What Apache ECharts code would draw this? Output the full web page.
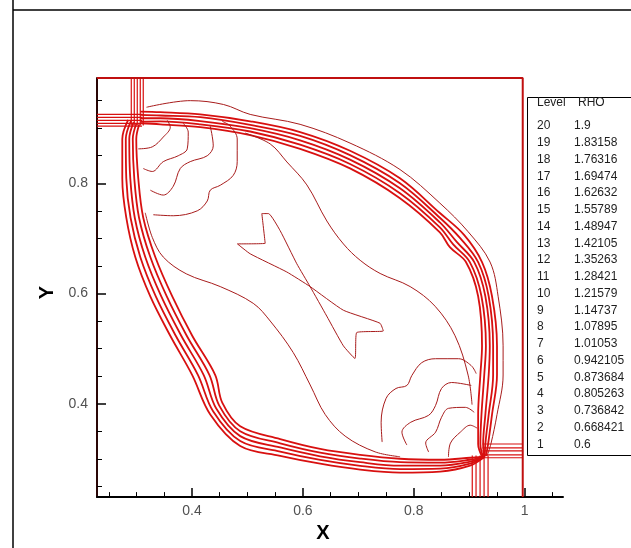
<!DOCTYPE html>
<html>
<head>
<meta charset="utf-8">
<title>RHO contours</title>
<script src="https://cdn.jsdelivr.net/npm/echarts@6/dist/echarts.min.js"></script>
<style>
  html, body { margin: 0; padding: 0; background: #fff; }
  #chart { width: 631px; height: 548px; }
</style>
</head>
<body>
<div id="chart"></div>
<script>
// ---- axis ranges and ticks ----
const X_MIN = 0.2288, X_MAX = 1.069;
const Y_MIN = 0.2304, Y_MAX = 0.9911;
const DOMAIN_RIGHT = 0.9964;
const xMajorTicks = [0.4, 0.6, 0.8, 1];
const xMinorTicks = [0.25, 0.3, 0.35, 0.45, 0.5, 0.55, 0.65, 0.7, 0.75, 0.85, 0.9, 0.95, 1.05];
const yMajorTicks = [0.4, 0.6, 0.8];
const yMinorTicks = [0.25, 0.3, 0.35, 0.45, 0.5, 0.55, 0.65, 0.7, 0.75, 0.85, 0.9, 0.95];

// ---- contour legend ----
const levelNumbers = [20, 19, 18, 17, 16, 15, 14, 13, 12, 11, 10, 9, 8, 7, 6, 5, 4, 3, 2, 1];
const rhoLevels = ['1.9', '1.83158', '1.76316', '1.69474', '1.62632', '1.55789', '1.48947',
  '1.42105', '1.35263', '1.28421', '1.21579', '1.14737', '1.07895', '1.01053', '0.942105',
  '0.873684', '0.805263', '0.736842', '0.668421', '0.6'];

// ---- shock band, upper-right side (outer -> inner) ----
const upperOuter = [[0.318,0.938],[0.397,0.950],[0.457,0.943],[0.505,0.925],[0.595,0.907],[0.685,0.873],[0.775,0.825],[0.847,0.764],[0.898,0.712],[0.9375,0.657],[0.952,0.595],[0.961,0.505],[0.961,0.452],[0.950,0.380],[0.939,0.327],[0.932,0.305]];
const upperBand1 = [[0.307,0.930],[0.343,0.929],[0.415,0.925],[0.505,0.9125],[0.595,0.893],[0.685,0.859],[0.775,0.809],[0.847,0.746],[0.891,0.706],[0.923,0.657],[0.941,0.595],[0.950,0.505],[0.950,0.452],[0.941,0.380],[0.934,0.327],[0.930,0.305]];
const upperBand2 = [[0.307,0.924],[0.343,0.923],[0.415,0.920],[0.505,0.906],[0.595,0.886],[0.685,0.851],[0.775,0.800],[0.847,0.7375],[0.884,0.700],[0.916,0.657],[0.935,0.595],[0.943,0.505],[0.943,0.452],[0.935,0.380],[0.929,0.327],[0.928,0.304]];
const upperBand3 = [[0.307,0.918],[0.343,0.918],[0.415,0.913],[0.505,0.900],[0.595,0.878],[0.685,0.843],[0.775,0.791],[0.847,0.729],[0.877,0.694],[0.909,0.657],[0.929,0.595],[0.937,0.505],[0.935,0.452],[0.929,0.380],[0.925,0.327],[0.927,0.303]];
const upperBand4 = [[0.307,0.912],[0.343,0.9125],[0.415,0.907],[0.505,0.894],[0.595,0.870],[0.685,0.835],[0.775,0.782],[0.847,0.720],[0.871,0.689],[0.901,0.657],[0.922,0.595],[0.930,0.505],[0.927,0.452],[0.922,0.380],[0.920,0.327],[0.925,0.303]];
const upperBand5 = [[0.307,0.909],[0.343,0.907],[0.415,0.902],[0.505,0.8875],[0.595,0.8625],[0.685,0.827],[0.775,0.773],[0.847,0.711],[0.865,0.684],[0.894,0.657],[0.916,0.595],[0.923,0.505],[0.920,0.452],[0.916,0.380],[0.916,0.327],[0.923,0.304]];

// ---- shock band, lower-left side (outer -> inner) ----
const lowerBand1 = [[0.285,0.915],[0.2744,0.8804],[0.2744,0.8089],[0.2816,0.7375],[0.2978,0.6661],[0.3249,0.5946],[0.3609,0.5232],[0.4005,0.4518],[0.4330,0.3804],[0.487,0.3232],[0.5591,0.3054],[0.6312,0.2911],[0.7033,0.2804],[0.7753,0.2750],[0.8474,0.2768],[0.9014,0.2875],[0.927,0.303]];
const lowerBand2 = [[0.290,0.913],[0.2807,0.8804],[0.2816,0.8089],[0.2893,0.7375],[0.3068,0.6661],[0.3348,0.5946],[0.3708,0.5232],[0.4109,0.4518],[0.4384,0.3857],[0.487,0.3321],[0.5591,0.3129],[0.6312,0.2978],[0.7033,0.2871],[0.7753,0.2813],[0.8474,0.2821],[0.9014,0.2911],[0.9285,0.304]];
const lowerBand3 = [[0.295,0.911],[0.2870,0.8804],[0.2888,0.8089],[0.2969,0.7375],[0.3158,0.6661],[0.3447,0.5946],[0.3807,0.5232],[0.4212,0.4518],[0.4438,0.3911],[0.487,0.3411],[0.5591,0.3205],[0.6312,0.3045],[0.7033,0.2938],[0.7753,0.2875],[0.8474,0.2875],[0.9014,0.2946],[0.927,0.303]];
const lowerBand4 = [[0.300,0.909],[0.2933,0.8804],[0.2960,0.8089],[0.3046,0.7375],[0.3249,0.6661],[0.3546,0.5946],[0.3906,0.5232],[0.4316,0.4518],[0.4492,0.3964],[0.487,0.3500],[0.5591,0.3281],[0.6312,0.3112],[0.7033,0.3004],[0.7753,0.2938],[0.8474,0.2929],[0.9014,0.2982],[0.925,0.303]];
const lowerBand5 = [[0.305,0.907],[0.2996,0.8804],[0.3032,0.8089],[0.3122,0.7375],[0.3339,0.6661],[0.3645,0.5946],[0.4005,0.5232],[0.4420,0.4518],[0.4546,0.4018],[0.487,0.3589],[0.5591,0.3357],[0.6312,0.3179],[0.7033,0.3071],[0.7753,0.3000],[0.8474,0.2982],[0.9014,0.3018],[0.923,0.304]];

// ---- interior contours ----
const innerUpper = [[0.4960,0.8911],[0.5411,0.8714],[0.5712,0.8387],[0.6072,0.7970],[0.6432,0.7316],[0.6732,0.6898],[0.7033,0.6602],[0.7393,0.6363],[0.7934,0.6125],[0.8384,0.5768],[0.8744,0.5232],[0.8979,0.4518],[0.9050,0.3982]];
const innerLower = [[0.3158,0.7464],[0.3285,0.7018],[0.3483,0.6661],[0.3897,0.6357],[0.4510,0.6125],[0.5105,0.5821],[0.5411,0.5500],[0.5825,0.4929],[0.6132,0.4339],[0.6402,0.3804],[0.6762,0.3411],[0.7303,0.3125],[0.7753,0.3036]];
const centerSaddle = [[0.482,0.690],[0.505,0.672],[0.571,0.639],[0.613,0.6125],[0.673,0.5696],[0.739,0.546],[0.745,0.532],[0.697,0.529],[0.694,0.482],[0.673,0.505],[0.643,0.559],[0.613,0.6125],[0.589,0.654],[0.559,0.714],[0.538,0.745],[0.526,0.745],[0.532,0.691],[0.482,0.690]];

// ---- pockets behind the top-left junction ----
const topLeftLoop1 = [[0.3032,0.8625],[0.3284,0.8661],[0.3483,0.8839],[0.3609,0.9018],[0.3555,0.9143]];
const topLeftLoop2 = [[0.3122,0.8268],[0.3285,0.8214],[0.3483,0.8393],[0.3753,0.8500],[0.3915,0.8625],[0.3933,0.8929],[0.3843,0.9089]];
const topLeftLoop3 = [[0.3249,0.7875],[0.3483,0.7786],[0.3663,0.7946],[0.3789,0.8268],[0.3969,0.8393],[0.4276,0.8500],[0.4384,0.8679],[0.4330,0.9036]];
const topLeftLoop4 = [[0.3303,0.7429],[0.3663,0.7411],[0.4096,0.7500],[0.4276,0.7679],[0.4330,0.7875],[0.4510,0.7964],[0.4744,0.8143],[0.4816,0.8393],[0.4816,0.8804],[0.4690,0.9036],[0.4546,0.9125]];

// ---- pockets behind the bottom-right junction ----
const bottomRightLoop1 = [[0.8625,0.3032],[0.8661,0.3284],[0.8839,0.3483],[0.9018,0.3609],[0.9143,0.3555]];
const bottomRightLoop2 = [[0.8268,0.3122],[0.8214,0.3285],[0.8393,0.3483],[0.8500,0.3753],[0.8625,0.3915],[0.8929,0.3933],[0.9089,0.3843]];
const bottomRightLoop3 = [[0.7875,0.3249],[0.7786,0.3483],[0.7946,0.3663],[0.8268,0.3789],[0.8393,0.3969],[0.8500,0.4276],[0.8679,0.4384],[0.9036,0.4330]];
const bottomRightLoop4 = [[0.7429,0.3303],[0.7411,0.3663],[0.7500,0.4096],[0.7679,0.4276],[0.7875,0.4330],[0.7964,0.4510],[0.8143,0.4744],[0.8393,0.4816],[0.8804,0.4816],[0.9036,0.4690],[0.9125,0.4546]];

// ---- straight shock legs running from the junctions to the boundary ----
const topLegX = [0.2906, 0.2960, 0.3014, 0.3068, 0.3122];
const leftLegY = [0.9250, 0.9196, 0.9143, 0.9089, 0.9036];
const bottomLegX = [0.9054, 0.9122, 0.9195, 0.9267, 0.9339];
const rightLegY = [0.3268, 0.3196, 0.3143, 0.3071, 0.3018];
const TOP_LEG_END = 0.905, LEFT_LEG_END = 0.31, BOTTOM_LEG_END = 0.306, RIGHT_LEG_START = 0.924;

const LINE_COLOR = '#a81c1c';
const BAND_COLOR = '#d81010';
const FONT = '"Liberation Sans", Arial, sans-serif';

function contour(points, color, smooth, width) {
  return {
    type: 'line',
    data: points,
    showSymbol: false,
    symbol: 'none',
    smooth: smooth,
    silent: true,
    animation: false,
    lineStyle: { color: color, width: width || 1 },
    z: 3
  };
}

const series = [];
[upperOuter].forEach(p => series.push(contour(p, LINE_COLOR, 0.35, 1)));
[upperBand1, upperBand2, upperBand3, upperBand4, upperBand5,
 lowerBand1, lowerBand2, lowerBand3, lowerBand4, lowerBand5]
  .forEach(p => series.push(contour(p, BAND_COLOR, 0.35, 1.8)));
[innerUpper, innerLower, topLeftLoop1, topLeftLoop2, topLeftLoop3, topLeftLoop4,
 bottomRightLoop1, bottomRightLoop2, bottomRightLoop3, bottomRightLoop4]
  .forEach(p => series.push(contour(p, LINE_COLOR, 0.35, 1)));
series.push(contour(centerSaddle, LINE_COLOR, 0.15, 1));
topLegX.forEach(x => series.push(contour([[x, TOP_LEG_END], [x, Y_MAX]], BAND_COLOR, false, 1.2)));
leftLegY.forEach(y => series.push(contour([[X_MIN, y], [LEFT_LEG_END, y]], BAND_COLOR, false, 1.2)));
bottomLegX.forEach(x => series.push(contour([[x, Y_MIN], [x, BOTTOM_LEG_END]], BAND_COLOR, false, 1.2)));
rightLegY.forEach(y => series.push(contour([[RIGHT_LEG_START, y], [DOMAIN_RIGHT, y]], BAND_COLOR, false, 1.2)));
// domain boundary
series.push(contour([[X_MIN, Y_MAX], [DOMAIN_RIGHT, Y_MAX], [DOMAIN_RIGHT, Y_MIN]], '#c01010', false, 2));

function axisPair(dim, major, minor, min, max, name) {
  const isX = dim === 'x';
  const labelStyle = { color: '#505050', fontSize: 14, fontFamily: FONT };
  return [
    {
      type: 'value', min: min, max: max,
      position: isX ? 'bottom' : 'left',
      name: name,
      nameLocation: 'middle',
      nameGap: isX ? 19 : 37,
      nameTextStyle: isX
        ? { fontSize: 20, fontWeight: 'bold', color: '#000', fontFamily: FONT, padding: [0, 14, 0, 0] }
        : { fontSize: 20, fontWeight: 'bold', color: '#000', fontFamily: FONT, padding: [0, 10, 0, 0] },
      axisLine: { show: true, onZero: false, lineStyle: { color: isX ? '#000' : '#2a0606', width: 2 } },
      axisTick: { show: true, inside: true, length: 9, customValues: major, lineStyle: { color: '#000', width: 1.5 } },
      axisLabel: Object.assign({ customValues: major, margin: isX ? 7 : 9 }, labelStyle),
      splitLine: { show: false }
    },
    {
      type: 'value', min: min, max: max,
      position: isX ? 'bottom' : 'left',
      axisLine: { show: false },
      axisTick: { show: true, inside: true, length: 5, customValues: minor, lineStyle: { color: '#000', width: 1 } },
      axisLabel: { show: false },
      splitLine: { show: false }
    }
  ];
}

// legend panel
const LEGEND_TOP = 97, ROW0 = 126, ROW_STEP = 16.75;
const legendText = { fontSize: 12, fontFamily: FONT, fill: '#1e1e1e' };
const legendChildren = [
  { type: 'rect', shape: { x: 527.5, y: LEGEND_TOP + 0.5, width: 120, height: 358 },
    style: { fill: '#fff', stroke: '#000', lineWidth: 1 } },
  { type: 'text', x: 537, y: 103, style: Object.assign({ text: 'Level', verticalAlign: 'middle' }, legendText) },
  { type: 'text', x: 578, y: 103, style: Object.assign({ text: 'RHO', verticalAlign: 'middle' }, legendText) }
];
levelNumbers.forEach((lv, i) => {
  const y = ROW0 + i * ROW_STEP;
  legendChildren.push({ type: 'text', x: 537, y: y, style: Object.assign({ text: String(lv), verticalAlign: 'middle' }, legendText) });
  legendChildren.push({ type: 'text', x: 574, y: y, style: Object.assign({ text: rhoLevels[i], verticalAlign: 'middle' }, legendText) });
});

const chart = echarts.init(document.getElementById('chart'), null, { renderer: 'canvas' });
chart.setOption({
  backgroundColor: '#fff',
  animation: false,
  grid: { left: 97, right: 68, top: 78, bottom: 44, containLabel: false },
  xAxis: axisPair('x', xMajorTicks, xMinorTicks, X_MIN, X_MAX, 'X'),
  yAxis: axisPair('y', yMajorTicks, yMinorTicks, Y_MIN, Y_MAX, 'Y'),
  series: series,
  graphic: [
    { type: 'line', shape: { x1: 13, y1: 10, x2: 631, y2: 10 }, style: { stroke: '#000', lineWidth: 1.5 }, silent: true },
    { type: 'line', shape: { x1: 13, y1: 0, x2: 13, y2: 548 }, style: { stroke: '#000', lineWidth: 1.5 }, silent: true },
    { type: 'group', children: legendChildren, silent: true, z: 10 }
  ]
});
</script>
</body>
</html>
